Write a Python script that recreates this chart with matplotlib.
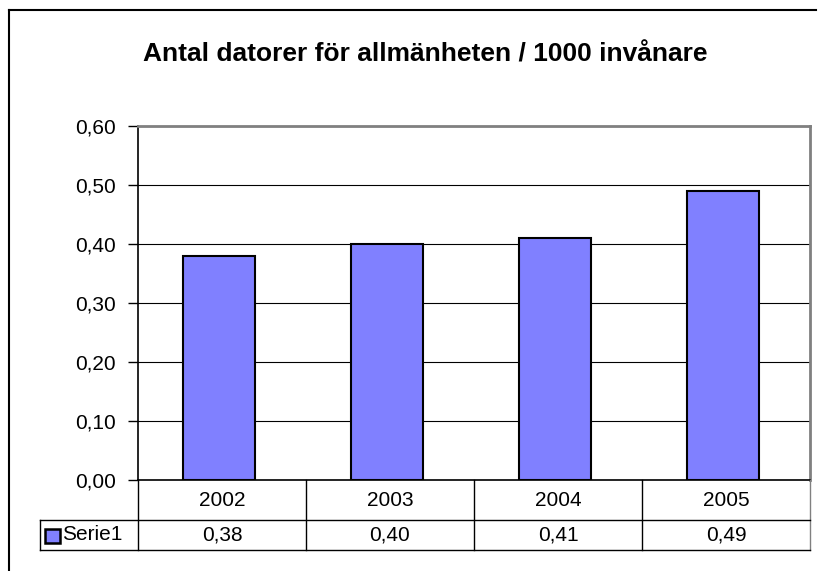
import matplotlib.pyplot as plt
from matplotlib.patches import Rectangle
from matplotlib.lines import Line2D

years = ['2002', '2003', '2004', '2005']
values = [0.38, 0.40, 0.41, 0.49]
value_labels = ['0,38', '0,40', '0,41', '0,49']
yticks = [0.0, 0.1, 0.2, 0.3, 0.4, 0.5, 0.6]
series_name = 'Serie1'
title = 'Antal datorer för allmänheten / 1000 invånare'

plt.rcParams['font.family'] = ['Liberation Sans', 'DejaVu Sans']

W, H = 826, 571
fig = plt.figure(figsize=(W / 100, H / 100), dpi=100)

def fx(px):
    return px / W

def fy(py):
    return 1 - py / H

# outer chart border (cut off at right and bottom in the screenshot)
fig.add_artist(Line2D([fx(9), fx(816)], [fy(10), fy(10)], color='black', lw=1.5))
fig.add_artist(Line2D([fx(9), fx(9)], [fy(10), 0], color='black', lw=1.5))

left, right, top, bottom = 138, 810, 126, 480
ax = fig.add_axes([fx(left), fy(bottom), fx(right - left), (bottom - top) / H])

x = list(range(len(years)))
ax.bar(x, values, width=0.43, color='#8080FF', edgecolor='black', linewidth=1.5, zorder=3)
ax.set_xlim(-0.48, len(years) - 0.48)
ax.set_ylim(0, 0.6)
ax.set_yticks(yticks)
ax.set_yticklabels([f'{v:.2f}'.replace('.', ',') for v in yticks], fontsize=15)
ax.yaxis.grid(True, color='black', linewidth=0.8, zorder=0)
ax.tick_params(axis='y', direction='out', length=7, width=1, pad=9)
ax.set_xticks([])
for s in ['top', 'right']:
    ax.spines[s].set_color('#808080')
    ax.spines[s].set_linewidth(2)
ax.spines['left'].set_linewidth(1.2)
ax.spines['bottom'].set_linewidth(1.2)

fig.text(fx(425), fy(55), title, ha='center', va='center',
         fontsize=19, fontweight='bold')

# data table below the axis
row1, row2 = 520, 550
cat_w = (right - left) / len(years)
lw = 1
for i in range(len(years) + 1):
    xp = left + i * cat_w
    fig.add_artist(Line2D([fx(xp), fx(xp)], [fy(bottom), fy(row2)],
                          color='#808080' if i == len(years) else 'black', lw=lw))
fig.add_artist(Line2D([fx(40), fx(right)], [fy(row1), fy(row1)], color='black', lw=lw))
fig.add_artist(Line2D([fx(40), fx(right)], [fy(row2), fy(row2)], color='black', lw=lw))
fig.add_artist(Line2D([fx(40), fx(40)], [fy(row1), fy(row2)], color='black', lw=lw))

for i, (yr, lab) in enumerate(zip(years, value_labels)):
    cx = left + (i + 0.5) * cat_w
    fig.text(fx(cx), fy((bottom + row1) / 2), yr, ha='center', va='center', fontsize=15)
    fig.text(fx(cx), fy((row1 + row2) / 2), lab, ha='center', va='center', fontsize=15)

# legend key in the table
fig.add_artist(Rectangle((fx(45), fy(543)), 15 / W, 14 / H, transform=fig.transFigure,
                         facecolor='#8080FF', edgecolor='black', linewidth=1.8))
fig.text(fx(62), fy(535), series_name, ha='left', va='center', fontsize=15)

fig.savefig('out.png', dpi=100)
